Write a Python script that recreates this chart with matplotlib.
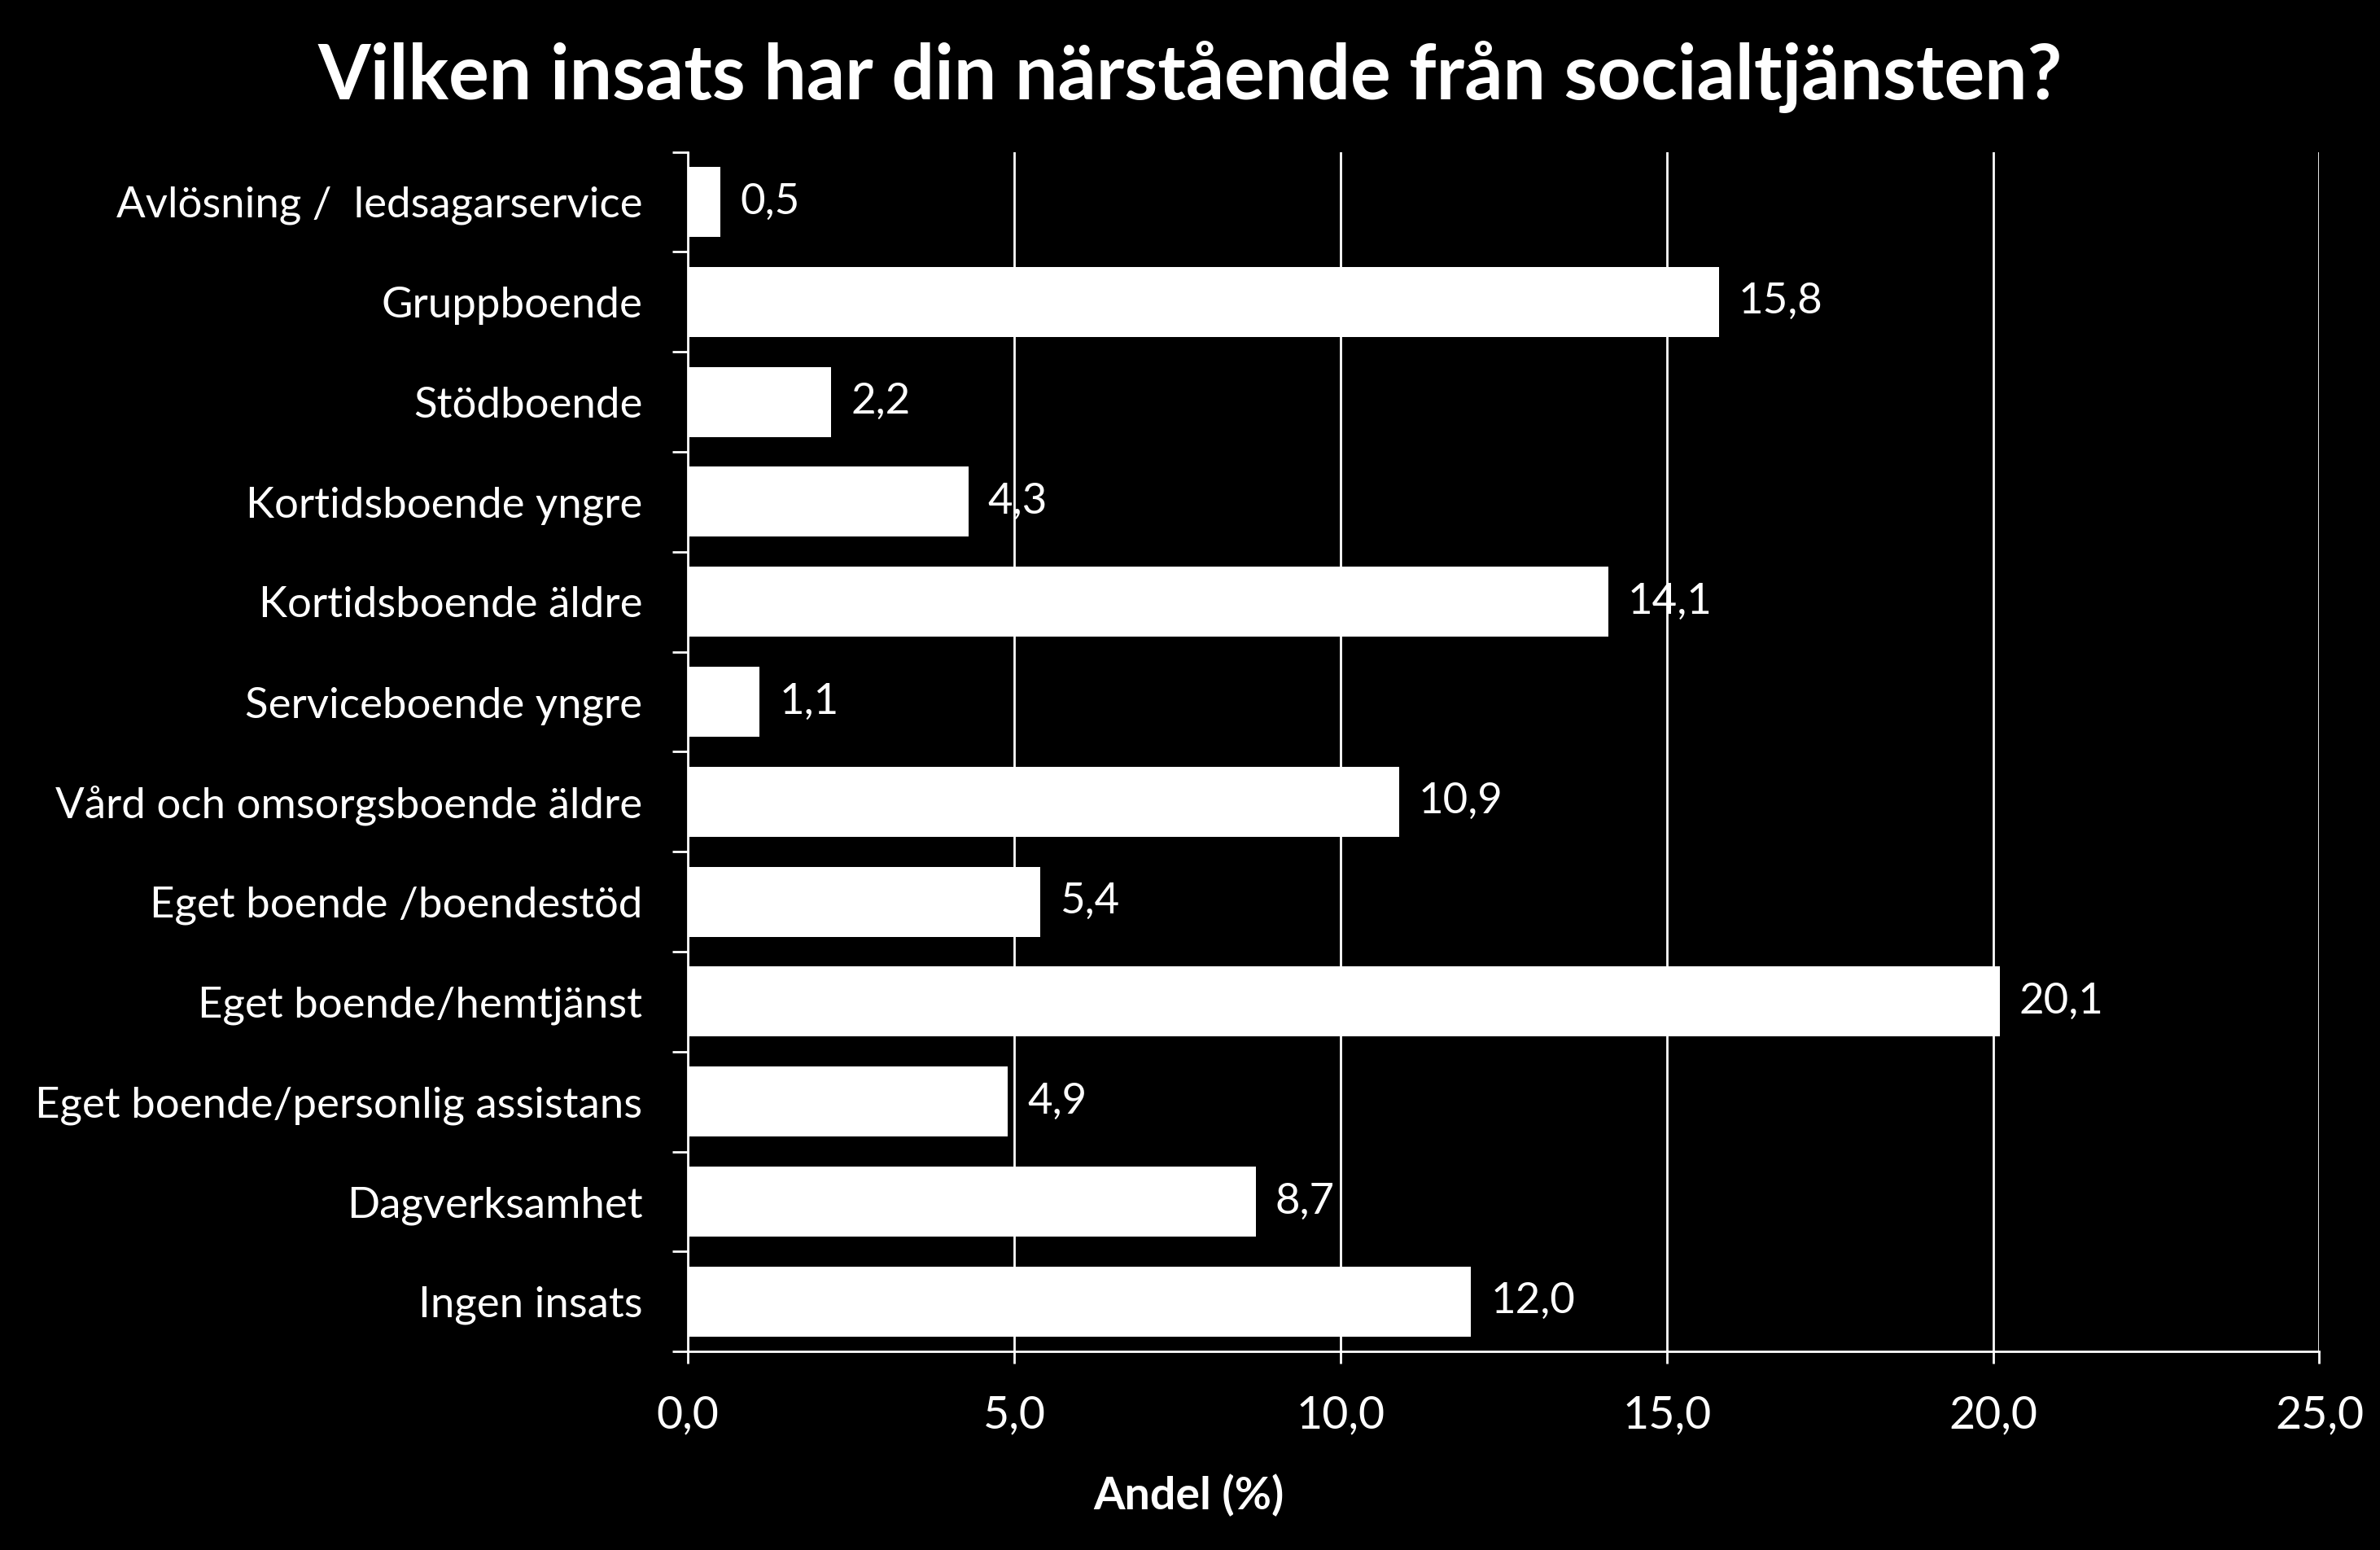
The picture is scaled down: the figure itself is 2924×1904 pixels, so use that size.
import matplotlib
matplotlib.use("Agg")
import matplotlib.pyplot as plt
import numpy as np

# Data
categories = [
    "Avlösning /  ledsagarservice",
    "Gruppboende",
    "Stödboende",
    "Kortidsboende yngre",
    "Kortidsboende äldre",
    "Serviceboende yngre",
    "Vård och omsorgsboende äldre",
    "Eget boende /boendestöd",
    "Eget boende/hemtjänst",
    "Eget boende/personlig assistans",
    "Dagverksamhet",
    "Ingen insats",
]
values = [0.5, 15.8, 2.2, 4.3, 14.1, 1.1, 10.9, 5.4, 20.1, 4.9, 8.7, 12.0]
xticks = [0, 5, 10, 15, 20, 25]

plt.rcParams['font.family'] = ['Lato', 'DejaVu Sans']

fig = plt.figure(figsize=(29.24, 19.04), dpi=100, facecolor='black')
ax = fig.add_axes([0.289, 0.128, 0.6855, 0.774], facecolor='black')

y = np.arange(len(categories))
ax.barh(y, values, height=0.7, color='white', zorder=3)

# Value labels
for yi, v in zip(y, values):
    ax.text(v + 0.3, yi, f"{v:.1f}".replace('.', ','), color='white',
            fontsize=38, va='center', ha='left', zorder=4)

ax.set_xlim(0, 25)
ax.set_ylim(len(categories) - 0.5, -0.5)
ax.set_xticks(xticks)
ax.set_xticklabels([f"{t:.1f}".replace('.', ',') for t in xticks])
ax.set_yticks(y)
ax.set_yticklabels(categories)
ax.set_yticks(np.arange(-0.5, len(categories)), minor=True)

ax.xaxis.grid(True, color='white', linewidth=2, zorder=0)
ax.set_axisbelow(True)

for side in ['top', 'right']:
    ax.spines[side].set_visible(False)
for side in ['left', 'bottom']:
    ax.spines[side].set_color('white')
    ax.spines[side].set_linewidth(2)

ax.tick_params(axis='y', which='major', length=0, pad=40, labelsize=38, labelcolor='white')
ax.tick_params(axis='y', which='minor', length=14, width=2, color='white')
ax.tick_params(axis='x', which='major', length=11, width=2, color='white',
               labelsize=40, labelcolor='white', pad=27)

ax.set_xlabel("Andel (%)", color='white', fontsize=40, fontweight='bold', va='center')
ax.xaxis.set_label_coords(0.307, -0.12)
fig.suptitle("Vilken insats har din närstående från socialtjänsten?", color='white',
             fontsize=67, fontweight='bold', y=0.974)

fig.savefig("out.png", dpi=100, facecolor='black')
